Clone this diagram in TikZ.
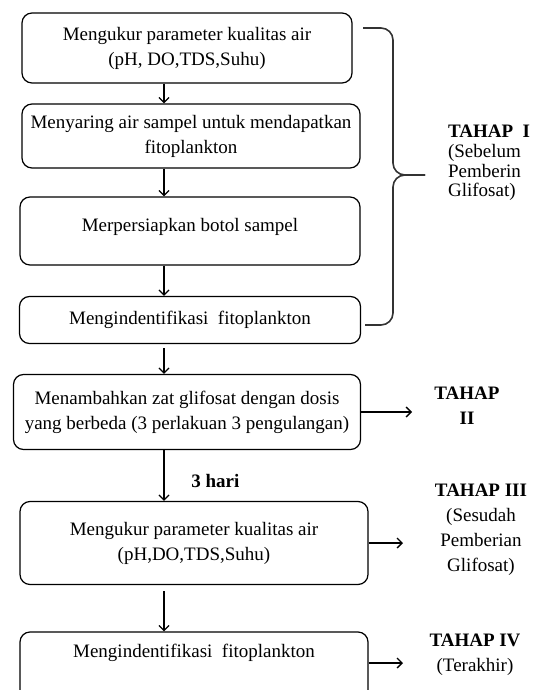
\documentclass[tikz,border=0pt]{standalone}
\usepackage{fontspec}
\setmainfont{Liberation Serif}
\usetikzlibrary{arrows, arrows.meta}

\begin{document}
\begin{tikzpicture}[x=0.5pt, y=-0.5pt,
  box/.style = {draw, rounded corners=5pt, line width=0.6pt, align=center,
    inner sep=2pt, font=\fontsize{9.5}{12.5}\selectfont},
  arr/.style = {-{Straight Barb[length=2.5pt,width=5pt]}, line width=0.65pt},
  stage/.style = {align=center, font=\fontsize{9.5}{12.5}\selectfont}]
  \clip (0,0) rectangle (534,690);

  \node [box, minimum width=165pt, minimum height=35pt] (b1) at (187,48)
    {Mengukur parameter kualitas air\\(pH, DO,TDS,Suhu)};
  \node [box, minimum width=169pt, minimum height=32pt] (b2) at (191,136)
    {Menyaring air sampel untuk mendapatkan\\fitoplankton};
  \node [box, minimum width=170pt, minimum height=34pt] (b3) at (190,231) {};
  \node (b3t) [font=\fontsize{9.5}{12.5}\selectfont] at (190,227) {Merpersiapkan botol sampel};
  \node [box, minimum width=170.5pt, minimum height=23.5pt] (b4) at (190,320)
    {Mengindentifikasi\ \ fitoplankton};
  \node [box, minimum width=173.5pt, minimum height=37.5pt] (b5) at (187,412)
    {Menambahkan zat glifosat dengan dosis\\yang berbeda (3 perlakuan 3 pengulangan)};
  \node [box, minimum width=174pt, minimum height=41.5pt] (b6) at (194,543)
    {Mengukur parameter kualitas air\\(pH,DO,TDS,Suhu)};
  \node [box, minimum width=174pt, minimum height=45pt] (b7) at (194,677) {};
  \node (b7t) [font=\fontsize{9.5}{12.5}\selectfont] at (194,653) {Mengindentifikasi\ \ fitoplankton};

  % arrows down the left column
  \coordinate (ax) at (164,0);
  \draw [arr] (b1.south -| ax) -- (b2.north -| ax);
  \draw [arr] (b2.south -| ax) -- (b3.north -| ax);
  \draw [arr] (b3.south -| ax) -- (b4.north -| ax);
  \draw [arr] ([yshift=-2pt]b4.south -| ax) -- (b5.north -| ax);
  \draw [arr] (b5.south -| ax) -- (b6.north -| ax) node [pos=0.6, right=10pt, font=\bfseries\fontsize{9.5}{12}\selectfont] (lag) {3 hari};
  \draw [arr] ([yshift=-3pt]b6.south -| ax) -- (b7.north -| ax);

  % brace for stage one
  \coordinate (bt) at (363,28);
  \coordinate (bn) at (425,175);
  \coordinate (bb) at (365,325);
  \draw [black!80, line width=0.8pt, rounded corners=6pt] (bt) -- (393,28) -- (393,175) -- (bn);
  \draw [black!80, line width=0.8pt, rounded corners=6pt] (bn) -- (393,175) -- (393,325) -- (bb);

  \node [stage, align=left, anchor=west, font=\fontsize{9.5}{9.8}\selectfont] (s1) at (441,163)
    {\textbf{TAHAP\ \ I}\\(Sebelum\\Pemberin\\Glifosat)};
  \node [stage] (s2) at (467,406) {\textbf{TAHAP}\\\textbf{II}};
  \node [stage] (s3) at (481,530) {\textbf{TAHAP III}\\(Sesudah\\Pemberian\\Glifosat)};
  \node [stage] (s4) at (475,655) {\textbf{TAHAP IV}\\(Terakhir)};

  % arrows to the stages
  \coordinate (e2) at (412,412);
  \coordinate (e3) at (403,543);
  \coordinate (e4) at (403,663);
  \draw [arr] (b5.east) -- (e2);
  \draw [arr] (b6.east) -- (e3);
  \draw [arr] (b7.east |- e4) -- (e4);
\end{tikzpicture}
\end{document}
